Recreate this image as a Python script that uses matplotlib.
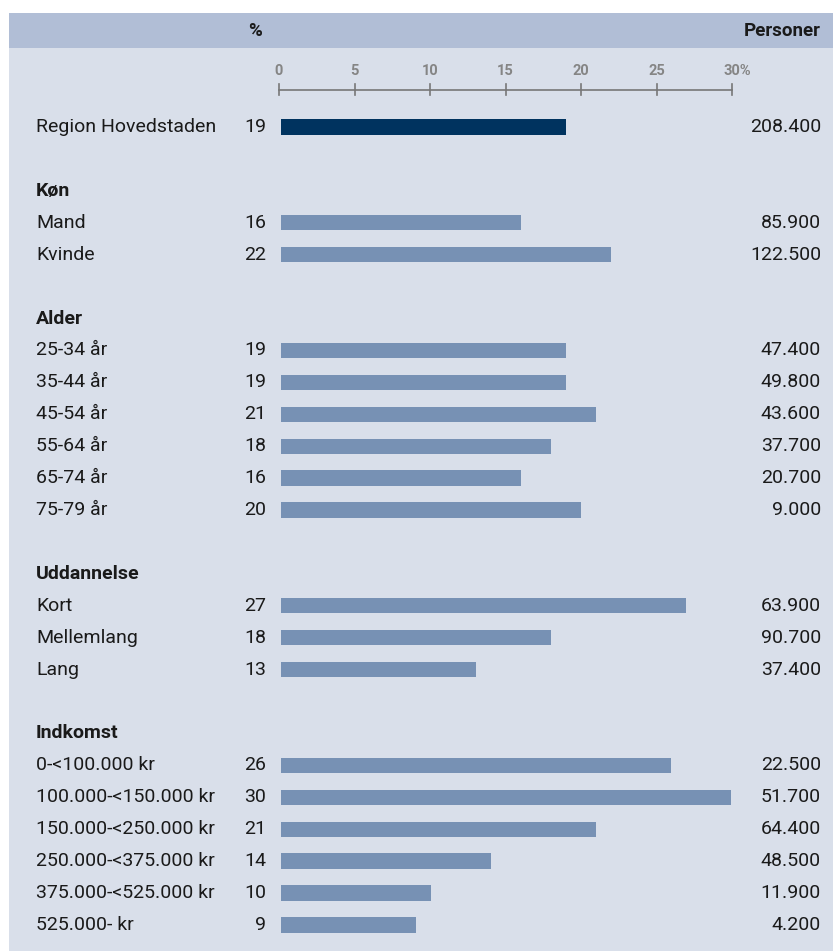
import matplotlib.pyplot as plt
from matplotlib.patches import Rectangle
from matplotlib.transforms import blended_transform_factory

# rows: (label, percent, persons, kind)
labels = ["Region Hovedstaden",
          "Køn", "Mand", "Kvinde",
          "Alder", "25-34 år", "35-44 år", "45-54 år", "55-64 år", "65-74 år", "75-79 år",
          "Uddannelse", "Kort", "Mellemlang", "Lang",
          "Indkomst", "0-<100.000 kr", "100.000-<150.000 kr", "150.000-<250.000 kr",
          "250.000-<375.000 kr", "375.000-<525.000 kr", "525.000- kr"]
rows = [0, 2, 3, 4, 6, 7, 8, 9, 10, 11, 12, 14, 15, 16, 17, 19, 20, 21, 22, 23, 24, 25]
pct = [19, None, 16, 22, None, 19, 19, 21, 18, 16, 20, None, 27, 18, 13,
       None, 26, 30, 21, 14, 10, 9]
persons = ["208.400", None, "85.900", "122.500", None, "47.400", "49.800", "43.600",
           "37.700", "20.700", "9.000", None, "63.900", "90.700", "37.400",
           None, "22.500", "51.700", "64.400", "48.500", "11.900", "4.200"]
ticks = [0, 5, 10, 15, 20, 25, 30]

W, H = 833, 951
fig = plt.figure(figsize=(W / 100, H / 100), dpi=100)
fig.patch.set_facecolor("white")

# background panel and header band
fig.patches.append(Rectangle((9 / W, 0), 1 - 9 / W, 1 - 48 / H, transform=fig.transFigure,
                             facecolor="#d9dfea", edgecolor="none", zorder=0))
fig.patches.append(Rectangle((9 / W, 1 - 48 / H), 1 - 9 / W, 35 / H, transform=fig.transFigure,
                             facecolor="#b1bed6", edgecolor="none", zorder=0))

x0, x1 = 279 / W, 732 / W
ax = fig.add_axes([x0, 0, x1 - x0, 1])
ax.set_zorder(2)
ax.set_xlim(0, 30)
step = 31.92
y_top = -127 / step
y_bot = (H - 127) / step
ax.set_ylim(y_bot, y_top)
ax.axis("off")
ax.patch.set_alpha(0)

font = "Roboto"
fs = 14
tr = blended_transform_factory(fig.transFigure, ax.transData)

for lab, r, p, n in zip(labels, rows, pct, persons):
    if p is None:
        ax.text(36 / W, r, lab, transform=tr, ha="left", va="center",
                fontsize=fs, fontweight="bold", family=font, color="#1a1a1a")
        continue
    color = "#00335f" if r == 0 else "#7791b4"
    ax.barh(r, p * 0.993, left=0.13, height=0.48, color=color, zorder=2)
    ax.text(36 / W, r, lab, transform=tr, ha="left", va="center",
            fontsize=fs, family=font, color="#1a1a1a")
    ax.text(266 / W, r, str(p), transform=tr, ha="right", va="center",
            fontsize=fs, family=font, color="#1a1a1a")
    ax.text(821 / W, r, n, transform=tr, ha="right", va="center",
            fontsize=fs, family=font, color="#1a1a1a")

# percent scale on top
y_axis = (90 - 127) / step
y_tlab = (71 - 127) / step
ax.plot([0, 30], [y_axis, y_axis], color="#777777", lw=1.2, clip_on=False)
for t in ticks:
    ax.plot([t, t], [y_axis - 0.18, y_axis + 0.15], color="#777777", lw=1.2, clip_on=False)
    ax.text(t, y_tlab, f"{t}%" if t == 30 else str(t), ha="left" if t == 30 else "center",
            va="center", fontsize=10.5, family=font, color="#858585",
            fontweight="bold")
ax.texts[-1].set_x(30 - 0.55)

# header band texts
y_head = (31 - 127) / step
ax.text(255 / W, y_head, "%", transform=tr, ha="center", va="center",
        fontsize=13.5, fontweight="bold", family=font, color="#1a1a1a")
ax.text(821 / W, y_head, "Personer", transform=tr, ha="right", va="center",
        fontsize=13.5, fontweight="bold", family=font, color="#1a1a1a")

fig.savefig("out.png", dpi=100, facecolor=fig.get_facecolor())
